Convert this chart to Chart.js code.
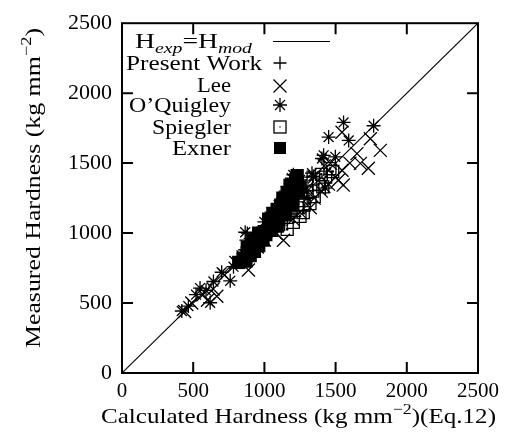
<!DOCTYPE html>
<html lang="en">
<head>
<meta charset="utf-8">
<title>Hardness</title>
<script src="https://cdn.jsdelivr.net/npm/chart.js@4.4.1/dist/chart.umd.min.js"></script>
<style>
  body { margin: 0; background: #fff; }
  #wrap { width: 507px; height: 439px; }
</style>
</head>
<body>
<div id="wrap"><canvas id="myChart" width="507" height="439"></canvas></div>
<script>
// values (kg mm^-2)
const tickValues = [0, 500, 1000, 1500, 2000, 2500];
const lineX = [0, 2500];
const lineY = [0, 2500];

const presentX = [880, 870, 900, 1000, 1050, 1100, 1150, 1200, 1250, 1300, 950, 1000, 860];
const presentY = [1000, 950, 960, 1050, 1100, 1150, 1250, 1300, 1350, 1400, 1000, 1000, 880];

const leeX = [440, 490, 570, 600, 666, 640, 720, 800, 888, 850, 950, 1000, 1080, 1134, 1100, 1200, 1250, 1322, 1350, 1400,
              1450, 1554, 1519, 1545, 1463, 1545, 1650, 1674, 1730, 1744, 1814, 1600, 1500, 1420, 1300, 1200, 1350, 1250];
const leeY = [440, 500, 560, 520, 548, 600, 700, 790, 736, 830, 900, 950, 1000, 949, 1100, 1100, 1150, 1181, 1250, 1300,
              1350, 1343, 1378, 1449, 1498, 1721, 1568, 1498, 1463, 1674, 1591, 1500, 1400, 1480, 1320, 1250, 1400, 1300];

const quigX = [420, 466, 548, 619, 642, 760, 783, 865, 860, 900, 950, 1000, 1050, 1100, 1130, 1150, 1193, 1250, 1334, 1343,
               1404, 1416, 1428, 1451, 1498, 1556, 1592, 1767, 1300, 1203, 520, 590, 700];
const quigY = [443, 478, 607, 502, 654, 659, 760, 1006, 850, 880, 960, 1080, 1150, 1200, 1250, 1300, 1392, 1380, 1428, 1406,
               1533, 1556, 1322, 1686, 1545, 1791, 1662, 1767, 1250, 1416, 560, 590, 720];

const spieX = [1000, 1050, 1100, 1160, 1180, 1203, 1230, 1273, 1300, 1340, 1380, 1400, 1430, 1460, 1250, 1320, 1150, 1120,
               1080, 1350, 1410, 1280, 1480];
const spieY = [1000, 1020, 1060, 1027, 1150, 1076, 1180, 1146, 1290, 1300, 1350, 1420, 1400, 1460, 1120, 1210, 1180, 1150,
               1100, 1260, 1330, 1200, 1440];

const exnerX = [820, 850, 870, 880, 900, 910, 930, 940, 960, 970, 990, 1000, 1010, 1030, 1040, 1050, 1070, 1080, 1100, 1100,
                1120, 1130, 1140, 1150, 1160, 1170, 1180, 1190, 1200, 1200, 1210, 1220, 1230, 1230, 1250, 1240, 1180, 1160,
                1130, 1115, 1090, 1060, 1030, 960, 920, 880, 1090, 1150, 1200];
const exnerY = [790, 820, 800, 860, 840, 890, 870, 930, 910, 970, 950, 1010, 990, 1050, 1020, 1090, 1060, 1120, 1100, 1160,
                1140, 1190, 1170, 1230, 1210, 1260, 1240, 1300, 1280, 1340, 1320, 1380, 1360, 1410, 1330, 1300, 1340, 1290,
                1250, 1200, 1170, 1140, 1100, 1000, 950, 900, 1050, 1130, 1200];

const pts = (xs, ys) => xs.map((x, i) => ({ x: x, y: ys[i] }));

const SERIF = "'Liberation Serif', 'DejaVu Serif', serif";

// draw a run of text pieces (normal / sup / sub), optionally stretched to a width
const drawRich = (ctx, parts, x, y, size, align, targetW) => {
    const fontOf = p => (p.it ? 'italic ' : '') + (p.sup || p.sub ? Math.round(size * 0.7) : size) + 'px ' + SERIF;
    let w = 0;
    parts.forEach(p => { ctx.font = fontOf(p); p.w = ctx.measureText(p.t).width; w += p.w; });
    const sx = targetW ? targetW / w : 1;
    ctx.save();
    ctx.translate(x, y);
    ctx.scale(sx, 1);
    let cx = align === 'right' ? -w : (align === 'center' ? -w / 2 : 0);
    ctx.textBaseline = 'alphabetic';
    ctx.textAlign = 'left';
    parts.forEach(p => {
        ctx.font = fontOf(p);
        let dy = p.sup ? -size * 0.45 : (p.sub ? size * 0.22 : 0);
        ctx.fillText(p.t, cx, dy);
        cx += p.w;
    });
    ctx.restore();
};

const drawSymbol = (ctx, kind, x, y) => {
    ctx.save();
    ctx.strokeStyle = '#000';
    ctx.fillStyle = '#000';
    ctx.lineWidth = 1.3;
    ctx.beginPath();
    if (kind === 'plus') {
        ctx.moveTo(x - 6.5, y); ctx.lineTo(x + 6.5, y);
        ctx.moveTo(x, y - 6.5); ctx.lineTo(x, y + 6.5);
        ctx.stroke();
    } else if (kind === 'x') {
        ctx.moveTo(x - 6.5, y - 6.5); ctx.lineTo(x + 6.5, y + 6.5);
        ctx.moveTo(x - 6.5, y + 6.5); ctx.lineTo(x + 6.5, y - 6.5);
        ctx.stroke();
    } else if (kind === 'star') {
        ctx.moveTo(x - 7, y); ctx.lineTo(x + 7, y);
        ctx.moveTo(x, y - 7); ctx.lineTo(x, y + 7);
        ctx.moveTo(x - 5, y - 5); ctx.lineTo(x + 5, y + 5);
        ctx.moveTo(x - 5, y + 5); ctx.lineTo(x + 5, y - 5);
        ctx.stroke();
    } else if (kind === 'box') {
        ctx.strokeRect(x - 6, y - 6, 12, 12);
        ctx.fillRect(x - 0.6, y - 0.6, 1.2, 1.2);
    } else if (kind === 'fbox') {
        ctx.fillRect(x - 6, y - 6, 12, 12);
    }
    ctx.restore();
};

const framePlugin = {
    id: 'frame',
    afterDraw(chart) {
        const ctx = chart.ctx;
        const ca = chart.chartArea;
        const xs = chart.scales.x, ys = chart.scales.y;
        ctx.save();
        ctx.strokeStyle = '#000';
        ctx.lineWidth = 2;
        ctx.strokeRect(ca.left, ca.top, ca.right - ca.left, ca.bottom - ca.top);
        // inward ticks on all four sides
        ctx.beginPath();
        tickValues.slice(1, -1).forEach(v => {
            const px = xs.getPixelForValue(v);
            ctx.moveTo(px, ca.bottom); ctx.lineTo(px, ca.bottom - 11);
            ctx.moveTo(px, ca.top); ctx.lineTo(px, ca.top + 11);
            const py = ys.getPixelForValue(v);
            ctx.moveTo(ca.left, py); ctx.lineTo(ca.left + 11, py);
            ctx.moveTo(ca.right, py); ctx.lineTo(ca.right - 11, py);
        });
        ctx.stroke();
        ctx.fillStyle = '#000';

        // axis titles
        drawRich(ctx, [{ t: 'Calculated Hardness (kg mm' }, { t: '\u22122', sup: true }, { t: ')(Eq.12)' }],
            101, 423, 21, 'left', 395);
        ctx.save();
        ctx.translate(40, 188);
        ctx.rotate(-Math.PI / 2);
        drawRich(ctx, [{ t: 'Measured Hardness (kg mm' }, { t: '\u22122', sup: true }, { t: ')' }],
            0, 0, 21, 'center', 320);
        ctx.restore();

        // key
        drawRich(ctx, [{ t: 'H' }, { t: 'exp', sub: true, it: true }, { t: '=H' }, { t: 'mod', sub: true, it: true }],
            252, 48, 21, 'right', 117);
        ctx.lineWidth = 1.2;
        ctx.beginPath();
        ctx.moveTo(273, 41.5); ctx.lineTo(330, 41.5);
        ctx.stroke();
        const rows = [
            ['Present Work', 262, 70, 'plus', 63, 136],
            ['Lee', 231, 92, 'x', 86, 34],
            ['O\u2019Quigley', 231, 112, 'star', 105, 102],
            ['Spiegler', 231, 134, 'box', 127, 79],
            ['Exner', 231, 155, 'fbox', 148, 59]
        ];
        rows.forEach(r => {
            drawRich(ctx, [{ t: r[0] }], r[1], r[2], 21, 'right', r[5]);
            drawSymbol(ctx, r[3], 280, r[4]);
        });
        ctx.restore();
    }
};

const markerBase = { showLine: false, borderColor: '#000', borderWidth: 1.3, pointBorderColor: '#000' };

new Chart(document.getElementById('myChart'), {
    type: 'scatter',
    data: {
        datasets: [
            { label: 'Hexp=Hmod', type: 'line', data: pts(lineX, lineY), borderColor: '#000', borderWidth: 1.1,
              pointRadius: 0, fill: false, order: 7 },
            Object.assign({ label: 'Present Work', data: pts(presentX, presentY), pointStyle: 'cross', pointRadius: 6.5,
              order: 5 }, markerBase),
            Object.assign({ label: 'Lee', data: pts(leeX, leeY), pointStyle: 'crossRot', pointRadius: 9.2,
              order: 4 }, markerBase),
            Object.assign({ label: "O'Quigley", data: pts(quigX, quigY), pointStyle: 'star', pointRadius: 7,
              order: 3 }, markerBase),
            Object.assign({ label: 'Spiegler', data: pts(spieX, spieY), pointStyle: 'rect', pointRadius: 8.5,
              pointBackgroundColor: 'rgba(0,0,0,0)', order: 2 }, markerBase),
            Object.assign({ label: 'Spiegler dot', data: pts(spieX, spieY), pointStyle: 'circle', pointRadius: 0.7,
              pointBackgroundColor: '#000', order: 1 }, markerBase),
            Object.assign({ label: 'Exner', data: pts(exnerX, exnerY), pointStyle: 'rect', pointRadius: 8.5,
              pointBackgroundColor: '#000', order: 0 }, markerBase)
        ]
    },
    options: {
        responsive: false,
        animation: false,
        layout: { padding: { left: 0, right: 29, top: 17, bottom: 0 } },
        plugins: { legend: { display: false }, tooltip: { enabled: false } },
        scales: {
            x: {
                type: 'linear', min: 0, max: 2500,
                afterBuildTicks: s => { s.ticks = tickValues.map(v => ({ value: v })); },
                afterFit: s => { s.height = 66; },
                grid: { display: false, drawTicks: false },
                border: { display: false },
                ticks: { color: '#000', padding: 6, font: { family: SERIF, size: 21 }, maxRotation: 0,
                         callback: v => String(v) }
            },
            y: {
                type: 'linear', min: 0, max: 2500,
                afterBuildTicks: s => { s.ticks = tickValues.map(v => ({ value: v })); },
                afterFit: s => { s.width = 122; },
                grid: { display: false, drawTicks: false },
                border: { display: false },
                ticks: { color: '#000', padding: 10, font: { family: SERIF, size: 22 },
                         callback: v => String(v) }
            }
        }
    },
    plugins: [framePlugin]
});
</script>
</body>
</html>
